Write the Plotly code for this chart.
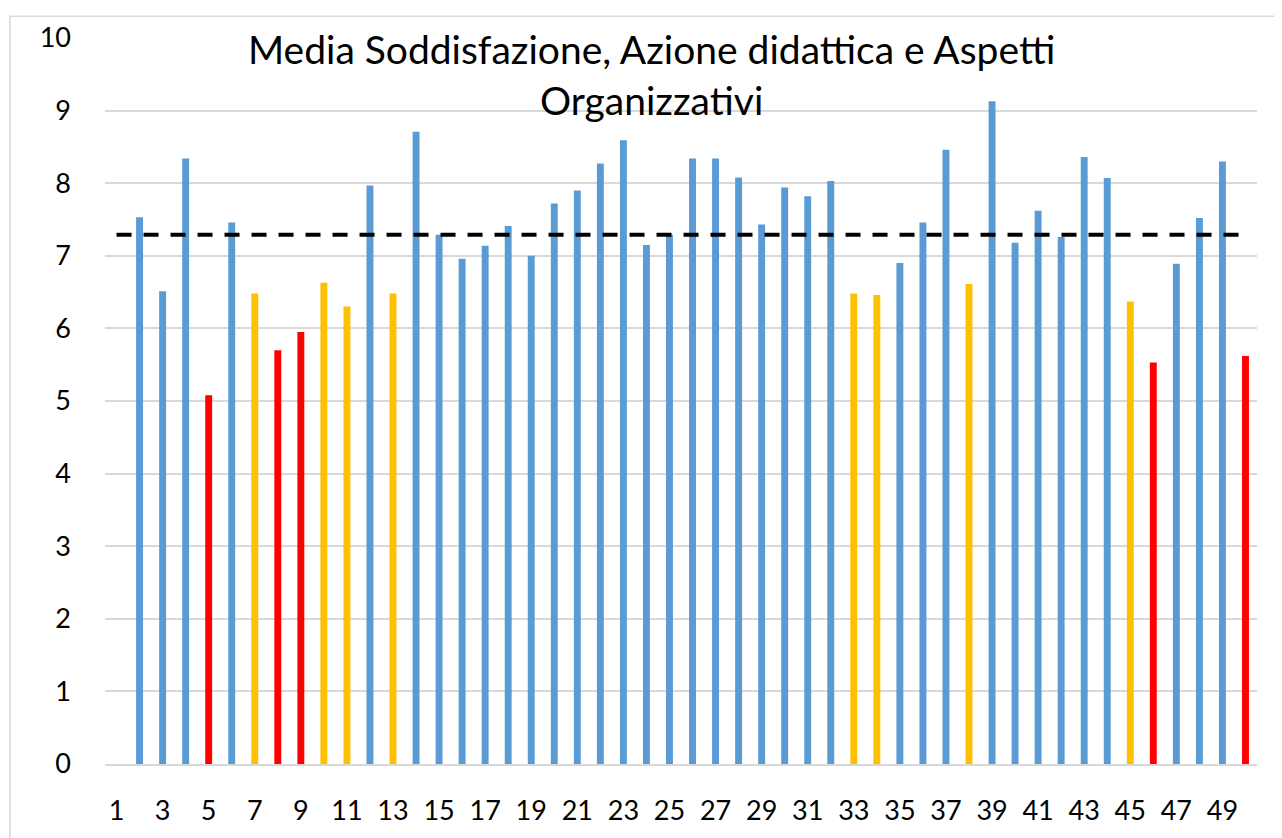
import plotly.graph_objects as go

# ---------------------------------------------------------------------------
# Data
# ---------------------------------------------------------------------------
categories = list(range(1, 51))
# media per insegnamento; il primo non ha valore
media = [
    None, 7.53, 6.51, 8.34, 5.08, 7.46, 6.48, 5.70, 5.95, 6.63,
    6.30, 7.97, 6.48, 8.71, 7.29, 6.96, 7.14, 7.41, 7.00, 7.72,
    7.90, 8.27, 8.59, 7.15, 7.29, 8.34, 8.34, 8.08, 7.43, 7.94,
    7.82, 8.03, 6.48, 6.46, 6.90, 7.46, 8.46, 6.61, 9.13, 7.18,
    7.62, 7.26, 8.36, 8.07, 6.37, 5.53, 6.89, 7.52, 8.30, 5.62,
]
# classe di ogni barra: "ok", "attenzione", "critico"
classe = [
    None, "ok", "ok", "ok", "critico", "ok", "attenzione", "critico", "critico", "attenzione",
    "attenzione", "ok", "attenzione", "ok", "ok", "ok", "ok", "ok", "ok", "ok",
    "ok", "ok", "ok", "ok", "ok", "ok", "ok", "ok", "ok", "ok",
    "ok", "ok", "attenzione", "attenzione", "ok", "ok", "ok", "attenzione", "ok", "ok",
    "ok", "ok", "ok", "ok", "attenzione", "critico", "ok", "ok", "ok", "critico",
]
media_generale = [7.29] * len(categories)

y_ticks = list(range(0, 11))
x_ticks = list(range(1, 50, 2))

TITLE = "Media Soddisfazione, Azione didattica e Aspetti<br>Organizzativi"

COLORS = {
    "ok": "#5B9BD5",
    "attenzione": "#FFC000",
    "critico": "#FF0000",
    "grid": "#D9D9D9",
    "text": "#000000",
}
FONT = "Lato, 'Open Sans', sans-serif"

bar_colors = [COLORS[c] if c else COLORS["ok"] for c in classe]

fig = go.Figure()

fig.add_trace(go.Bar(
    x=categories,
    y=media,
    width=0.3,
    marker=dict(color=bar_colors, line=dict(width=0)),
    showlegend=False,
))

# linea tratteggiata della media complessiva
fig.add_trace(go.Scatter(
    x=categories,
    y=media_generale,
    mode="lines",
    line=dict(color="black", width=4, dash="15px,12px"),
    showlegend=False,
))

# bordo dell'area del grafico (stile Excel)
fig.add_shape(
    type="rect", xref="paper", yref="paper",
    x0=-0.0825, x1=1.05, y0=-0.2, y1=1.030,
    line=dict(color="#D9D9D9", width=1.5),
    fillcolor="rgba(0,0,0,0)",
    layer="below",
)

# titolo come annotazione, per controllarne la posizione
fig.add_annotation(
    text=TITLE,
    xref="paper", yref="paper",
    x=0.4748, y=1.0197,
    xanchor="center", yanchor="top",
    showarrow=False,
    font=dict(family=FONT, size=39, color=COLORS["text"]),
)

# la pagina ha 8px di margine nel body: margini compensati
fig.update_layout(
    width=1282,
    height=838,
    paper_bgcolor="white",
    plot_bgcolor="white",
    font=dict(family=FONT, color=COLORS["text"], size=27),
    margin=dict(l=97, r=33, t=25, b=82),
    xaxis=dict(
        range=[0.5, 50.5],
        tickmode="array",
        tickvals=x_ticks,
        ticktext=[str(v) for v in x_ticks],
        showgrid=False,
        showline=True,
        linecolor=COLORS["grid"],
        linewidth=1.5,
        ticks="",
        ticklabelstandoff=22,
        zeroline=False,
        fixedrange=True,
    ),
    yaxis=dict(
        range=[0, 10],
        tickmode="array",
        tickvals=y_ticks,
        ticktext=[str(v) for v in y_ticks],
        showgrid=True,
        gridcolor=COLORS["grid"],
        gridwidth=1.5,
        zeroline=False,
        showline=False,
        ticks="",
        ticklabelstandoff=33,
        fixedrange=True,
    ),
)

fig.write_html("out.html")
